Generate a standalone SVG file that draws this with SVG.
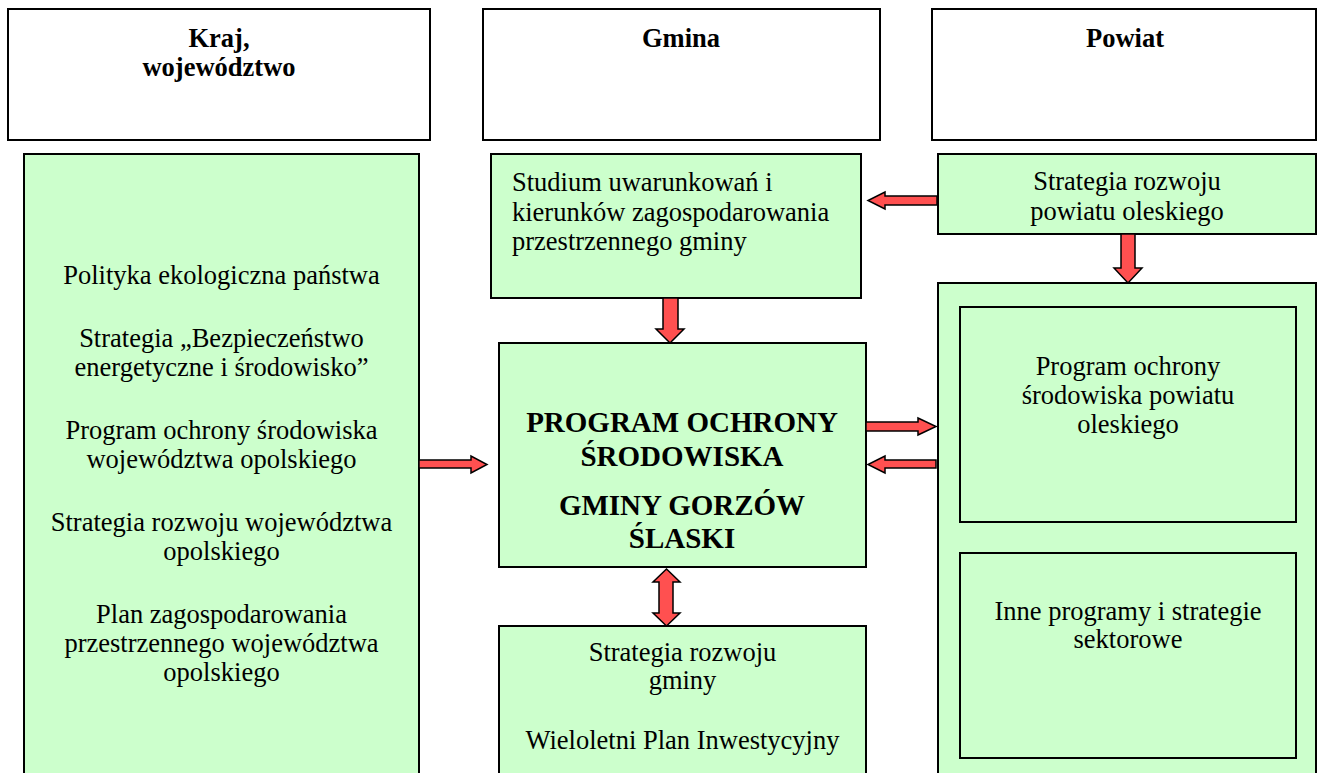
<svg xmlns="http://www.w3.org/2000/svg" width="1317" height="773" viewBox="0 0 1317 773">
<style>
.hdr{fill:#fff;stroke:#000;stroke-width:2}
.box{fill:#ccffcc;stroke:#000;stroke-width:2}
.arr{fill:#ff5050;stroke:#000;stroke-width:1.5;stroke-linejoin:miter}
.b,.r,.rl,.c{font-family:'Liberation Serif','DejaVu Serif',serif;fill:#000}
.b{font-weight:bold;font-size:26.5px;text-anchor:middle}
.r{font-size:26.5px;text-anchor:middle}
.rl{font-size:26.5px}
.c{font-weight:bold;font-size:29px;text-anchor:middle}
</style>
<rect width="1317" height="773" fill="#fff"/>
<g font-family="Liberation Serif, DejaVu Serif, serif">
<g id="hdr-kraj"><rect class="hdr" x="8" y="9" width="422" height="131"/><text class="b" x="219" y="47">Kraj,</text><text class="b" x="219" y="76">województwo</text></g>
<g id="hdr-gmina"><rect class="hdr" x="483" y="9" width="397" height="131"/><text class="b" x="681" y="47">Gmina</text></g>
<g id="hdr-powiat"><rect class="hdr" x="932" y="9" width="384" height="131"/><text class="b" x="1125" y="47">Powiat</text></g>
<g id="kraj-docs"><rect class="box" x="24" y="154" width="395" height="630"/>
<text class="r" x="221.5" y="284">Polityka ekologiczna państwa</text>
<text class="r" x="221.5" y="347">Strategia „Bezpieczeństwo</text>
<text class="r" x="221.5" y="376">energetyczne i środowisko”</text>
<text class="r" x="221.5" y="439">Program ochrony środowiska</text>
<text class="r" x="221.5" y="468">województwa opolskiego</text>
<text class="r" x="221.5" y="531">Strategia rozwoju województwa</text>
<text class="r" x="221.5" y="560">opolskiego</text>
<text class="r" x="221.5" y="623">Plan zagospodarowania</text>
<text class="r" x="221.5" y="652">przestrzennego województwa</text>
<text class="r" x="221.5" y="681">opolskiego</text>
</g>
<g id="studium"><rect class="box" x="491" y="154" width="370" height="144"/>
<text class="rl" x="512" y="191">Studium uwarunkowań i</text>
<text class="rl" x="512" y="221">kierunków zagospodarowania</text>
<text class="rl" x="512" y="250">przestrzennego gminy</text>
</g>
<g id="strategia-powiatu"><rect class="box" x="938" y="154" width="378" height="80"/>
<text class="r" x="1127" y="190">Strategia rozwoju</text>
<text class="r" x="1127" y="220">powiatu oleskiego</text>
</g>
<g id="program-gminy"><rect class="box" x="499" y="343" width="367" height="224"/>
<text class="c" x="682" y="432">PROGRAM OCHRONY</text>
<text class="c" x="682" y="466">ŚRODOWISKA</text>
<text class="c" x="682" y="515">GMINY GORZÓW</text>
<text class="c" x="682" y="548">ŚLASKI</text>
</g>
<g id="strategia-gminy"><rect class="box" x="499" y="626" width="367" height="160"/>
<text class="r" x="682.5" y="661">Strategia rozwoju</text>
<text class="r" x="682.5" y="689">gminy</text>
<text class="r" x="682.5" y="749">Wieloletni Plan Inwestycyjny</text>
</g>
<g id="powiat-programy"><rect class="box" x="938" y="283" width="378" height="500"/></g>
<g id="program-powiatu"><rect class="box" x="960" y="307" width="336" height="215"/>
<text class="r" x="1128" y="375">Program ochrony</text>
<text class="r" x="1128" y="404">środowiska powiatu</text>
<text class="r" x="1128" y="433">oleskiego</text>
</g>
<g id="inne-programy"><rect class="box" x="960" y="553" width="336" height="205"/>
<text class="r" x="1128" y="620">Inne programy i strategie</text>
<text class="r" x="1128" y="648">sektorowe</text>
</g>
<g id="connectors">
<polygon class="arr" points="419,460 471,460 471,456 487,464.5 471,473 471,468 419,468"/>
<polygon class="arr" points="937,196 885,196 885,192 868,200.5 885,209 885,205 937,205"/>
<polygon class="arr" points="866,422 918,422 918,418 936,426.5 918,435 918,431 866,431"/>
<polygon class="arr" points="936,460 885,460 885,456 868,464.5 885,473 885,468 936,468"/>
<polygon class="arr" points="663,298 678,298 678,329 684,329 670,343 656,329 663,329"/>
<polygon class="arr" points="1121,234 1135,234 1135,268 1142,268 1128,283 1114,268 1121,268"/>
<polygon class="arr" points="666.5,569 680,582 673,582 673,613 680,613 666.5,626 653,613 659,613 659,582 653,582"/>
</g>
</g>
</svg>
